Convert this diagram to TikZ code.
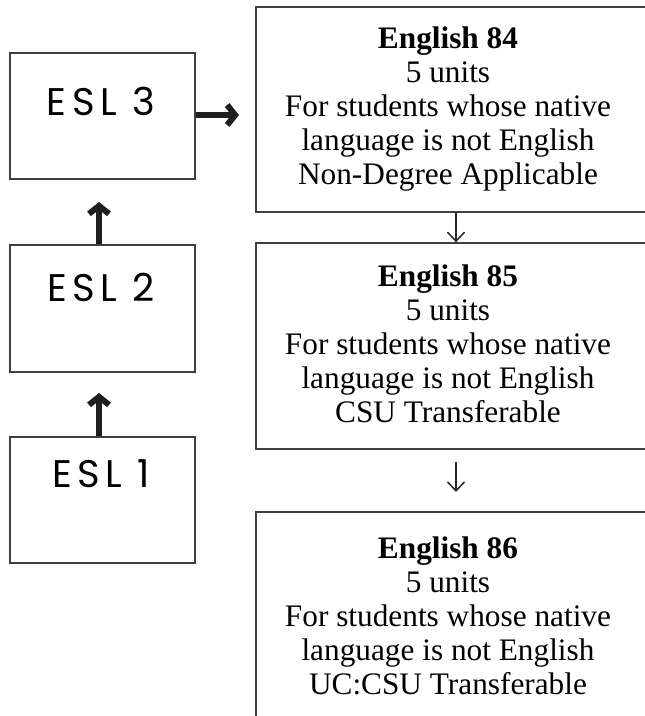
\documentclass[tikz,border=0pt]{standalone}
\usepackage{fontspec}
\setmainfont{Liberation Serif}
\newfontfamily\eslfont[LetterSpace=14]{Poppins}
\usetikzlibrary{arrows.meta}
\begin{document}
\begin{tikzpicture}[x=1pt,y=-1pt,
  boxline/.style={draw=black!75, line width=1.4pt},
  lbox/.style={boxline, minimum width=185pt, inner sep=0pt},
  rbox/.style={boxline, minimum width=390pt, inner sep=0pt},
  esltext/.style={font=\eslfont\fontsize{38.5}{40}\selectfont, inner sep=0pt, anchor=base},
  rtext/.style={font=\fontsize{31.3}{34}\selectfont, align=center, inner sep=0pt, anchor=north},
  bigarrow/.style={line width=6pt, draw=black!88, -{Straight Barb[length=8pt,width=20pt]}},
  smallarrow/.style={line width=1.5pt, draw=black!85, -{Straight Barb[length=9pt,width=17pt]}}]
\useasboundingbox (0,0) rectangle (645,716);
\clip (0,0) rectangle (645,716);
% left column
\node[lbox, minimum height=126pt] (esl3) at (102.5,116) {};
\node[lbox, minimum height=127pt] (esl2) at (102.5,308.5) {};
\node[lbox, minimum height=126pt] (esl1) at (102.5,500) {};
\node[esltext] (t3) at (101,115) {ESL 3};
\node[esltext] (t2) at (101,301) {ESL 2};
\node[esltext] (t1) at (101,487) {ESL 1};
% right column
\node[rbox, minimum height=205pt] (e84) at (451,109.5) {};
\node[rbox, minimum height=206pt] (e85) at (451,346) {};
\node[rbox, minimum height=220pt] (e86) at (451,622) {};
\node[rtext] (x84) at (448,27) {\textbf{English 84}\\5 units\\For students whose native\\language is not English\\Non-Degree Applicable};
\node[rtext] (x85) at (448,265) {\textbf{English 85}\\5 units\\For students whose native\\language is not English\\CSU Transferable};
\node[rtext] (x86) at (448,537) {\textbf{English 86}\\5 units\\For students whose native\\language is not English\\UC:CSU Transferable};
% arrows
\coordinate (up2) at (99,202);
\coordinate (up1) at (99,393);
\coordinate (rt3) at (239,115);
\coordinate (dn1) at (456,0);
\coordinate (dnA) at (456,462);
\coordinate (dnB) at (456,492);
\draw[bigarrow] (esl2.north -| up2) -- (up2);
\draw[bigarrow] (esl1.north -| up1) -- (up1);
\draw[bigarrow] (esl3.east |- rt3) -- (rt3);
\draw[smallarrow] (e84.south -| dn1) -- (e85.north -| dn1);
\draw[smallarrow] (dnA) -- (dnB);
\end{tikzpicture}
\end{document}
